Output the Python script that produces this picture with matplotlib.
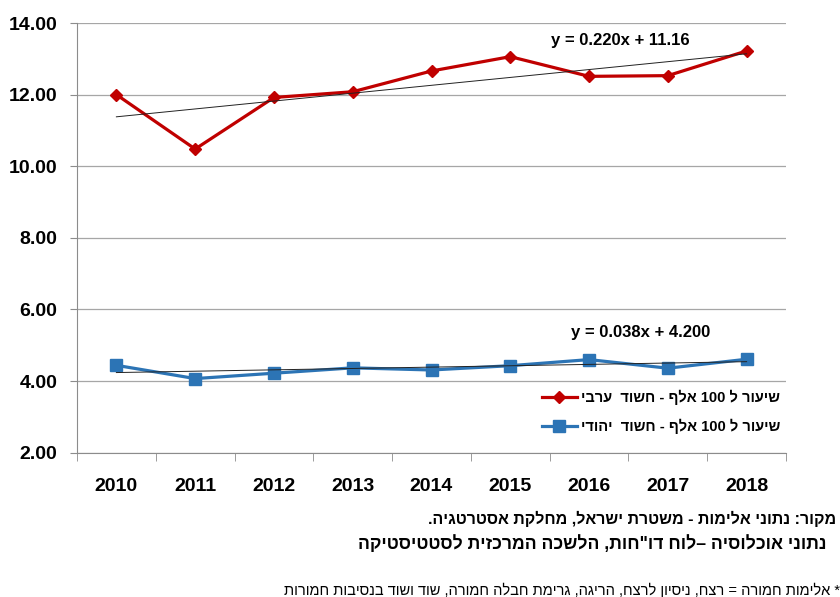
import re
import numpy as np
import matplotlib
matplotlib.use('Agg')
import matplotlib.pyplot as plt

plt.rcParams['font.family'] = ['Liberation Sans', 'DejaVu Sans']

# data
years = ['2010', '2011', '2012', '2013', '2014', '2015', '2016', '2017', '2018']
arab_rate = [12.00, 10.48, 11.92, 12.08, 12.66, 13.06, 12.51, 12.53, 13.22]
jewish_rate = [4.44, 4.07, 4.22, 4.37, 4.31, 4.43, 4.60, 4.36, 4.61]

arab_trend = (0.220, 11.16)
jewish_trend = (0.038, 4.200)
arab_trend_label = 'y = 0.220x + 11.16'
jewish_trend_label = 'y = 0.038x + 4.200'

arab_label = 'שיעור ל 100 אלף - חשוד  ערבי'
jewish_label = 'שיעור ל 100 אלף - חשוד  יהודי'

source_lines = [
    'מקור: נתוני אלימות - משטרת ישראל, מחלקת אסטרטגיה.',
    'נתוני אוכלוסיה –לוח דו"חות, הלשכה המרכזית לסטטיסטיקה',
]
footnote = '* אלימות חמורה = רצח, ניסיון לרצח, הריגה, גרימת חבלה חמורה, שוד ושוד בנסיבות חמורות'

y_ticks = [2, 4, 6, 8, 10, 12, 14]


def rtl(s):
    # matplotlib has no bidi: reverse, then put digit runs back in order
    r = s[::-1]
    return re.sub(r'[0-9.]*[0-9]', lambda m: m.group(0)[::-1], r)


RED = '#C00000'
BLUE = '#2C74B5'
GRAY = '#8C8C8C'

fig = plt.figure(figsize=(8.4, 5.97), dpi=100)
ax = fig.add_axes([77 / 840, 1 - 452.7 / 597, (786 - 77) / 840, (452.7 - 23) / 597])

pos = np.arange(len(years))

ax.plot(pos, arab_rate, color=RED, lw=2.3, marker='D', ms=6.5, zorder=3,
        label=rtl(arab_label))
ax.plot(pos, jewish_rate, color=BLUE, lw=2.3, marker='s', ms=8, zorder=3,
        label=rtl(jewish_label))

# linear trend lines (x counted 1..n like Excel)
xs = pos + 1
for slope, icpt in (arab_trend, jewish_trend):
    ax.plot(pos, slope * xs + icpt, color='#222222', lw=0.7, zorder=4)

ax.text(6.4, 13.52, arab_trend_label, ha='center', va='center',
        fontsize=12, fontweight='bold')
ax.text(6.65, 5.37, jewish_trend_label, ha='center', va='center',
        fontsize=12, fontweight='bold')

ax.set_xlim(-0.5, len(years) - 0.5)
ax.set_ylim(2, 14)
ax.set_yticks(y_ticks)
ax.set_yticklabels(['%.2f' % v for v in y_ticks], fontsize=14, fontweight='bold')
ax.set_xticks(pos)
ax.set_xticklabels(years, fontsize=14, fontweight='bold')
ax.set_xticks(np.arange(len(years) + 1) - 0.5, minor=True)
ax.tick_params(axis='x', which='major', length=0, pad=18)
ax.tick_params(axis='x', which='minor', length=6, color=GRAY)
ax.tick_params(axis='y', length=5, color=GRAY, pad=9)

ax.grid(axis='y', color='#A6A6A6', lw=0.9)
ax.set_axisbelow(True)
for side in ('top', 'right'):
    ax.spines[side].set_visible(False)
for side in ('left', 'bottom'):
    ax.spines[side].set_color(GRAY)

leg = ax.legend(loc='upper right', bbox_to_anchor=(1.0, 0.16), frameon=True,
                edgecolor='white', facecolor='white', framealpha=1,
                borderaxespad=0, handlelength=2.4, handletextpad=0.3,
                labelspacing=0.95, prop={'weight': 'bold', 'size': 10.5})
leg.set_zorder(5)

fig.text(836 / 840, 1 - 519 / 597, rtl(source_lines[0]), ha='right', va='center',
         fontsize=11.5, fontweight='bold')
fig.text(826 / 840, 1 - 544 / 597, rtl(source_lines[1]), ha='right', va='center',
         fontsize=12.7, fontweight='bold')
fig.text(840 / 840, 1 - 590 / 597, rtl(footnote), ha='right', va='center',
         fontsize=10.5)

fig.savefig('out.png', dpi=100)
